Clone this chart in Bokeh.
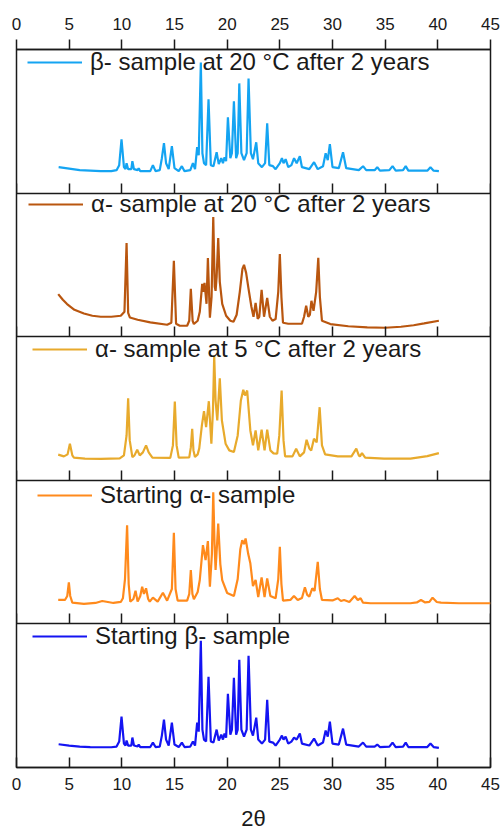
from bokeh.plotting import figure
from bokeh.layouts import column
from bokeh.models import Range1d, LinearAxis, Legend, LegendItem, FixedTicker, Spacer
from bokeh.embed import file_html
from bokeh.resources import INLINE

# ---------------- data ----------------
x_ticks = [0, 5, 10, 15, 20, 25, 30, 35, 40, 45]
x_label = "2θ"

labels = [
    "β- sample at 20 °C after 2 years",
    "α- sample at 20 °C after 2 years",
    "α- sample at 5 °C after 2 years",
    "Starting α- sample",
    "Starting β- sample",
]
colors = ["#14A4F2", "#B9560F", "#E8AA2C", "#FF8A1C", "#1414F2"]

# beta sample at 20 C after 2 years (relative intensity, a.u.)
theta_beta_2y = [4.0, 5.0, 6.0, 7.0, 8.0, 9.0, 9.5, 9.75, 9.97, 10.2, 10.35, 10.45, 10.6, 10.9, 11.0, 11.15,
                 11.5, 11.6, 11.75, 12.7, 12.95, 13.2, 13.6, 13.8, 14.0, 14.2, 14.45, 14.75, 15.0, 15.4,
                 15.7, 15.95, 16.5, 16.75, 16.95, 17.15, 17.3, 17.5, 17.65, 17.8, 18.0, 18.23, 18.45, 18.7,
                 19.0, 19.2, 19.44, 19.6, 19.75, 19.9, 20.07, 20.3, 20.45, 20.64, 20.85, 21.0, 21.15, 21.35,
                 21.6, 21.85, 22.03, 22.25, 22.45, 22.76, 22.95, 23.3, 23.6, 23.8, 24.0, 24.35, 24.6, 25.0,
                 25.2, 25.35, 25.55, 25.8, 26.1, 26.35, 26.6, 26.9, 27.1, 27.8, 28.25, 28.6, 29.1, 29.35,
                 29.55, 29.75, 30.0, 30.6, 31.0, 31.3, 32.5, 32.9, 33.2, 34.0, 34.25, 34.5, 35.4, 35.7, 36.0,
                 36.7, 36.95, 37.2, 39.0, 39.3, 39.6, 40.1]
int_beta_2y = [26, 24.5, 23, 22.5, 22, 22, 23, 28, 54, 26, 24, 30, 24, 24, 32, 24,
               23, 25, 22, 22, 28, 22, 23, 35, 50, 30, 24, 47, 25, 22,
               27, 22, 23, 30, 24, 46, 38, 131, 40, 30, 28, 94, 28, 27,
               41, 29, 35, 30, 36, 32, 76, 35, 40, 92, 35, 40, 110, 40,
               33, 40, 115, 40, 34, 51, 30, 26, 30, 70, 28, 27, 24, 30,
               35, 30, 34, 26, 28, 35, 30, 37, 26, 24, 31, 24, 27, 40,
               33, 49, 26, 25, 41, 25, 23, 27, 23, 23, 26, 22.5, 23, 27, 22.5,
               23, 27, 22.5, 22.5, 26, 22.5, 22]

# alpha sample at 20 C after 2 years
theta_alpha_20 = [3.96, 4.4, 4.8, 5.5, 6.4, 7.2, 8.0, 9.0, 9.9, 10.25, 10.45, 10.6, 10.76, 11.5, 12.7, 14.3,
                  14.7, 14.94, 15.15, 15.5, 16.2, 16.4, 16.55, 16.72, 16.84, 17.2, 17.4, 17.63, 17.75, 17.85,
                  18.04, 18.17, 18.36, 18.52, 18.68, 18.82, 18.9, 19.0, 19.15, 19.3, 19.53, 19.9, 20.3, 20.6,
                  20.9, 21.2, 21.45, 21.6, 21.8, 22.0, 22.3, 22.5, 22.7, 22.9, 23.05, 23.27, 23.5, 23.8,
                  24.05, 24.3, 24.6, 24.85, 25.0, 25.15, 25.3, 25.8, 27.1, 27.3, 27.5, 27.7, 27.85, 28.0,
                  28.2, 28.45, 28.65, 28.8, 29.0, 29.8, 31.5, 33.3, 35.0, 36.5, 37.7, 38.7, 40.1]
int_alpha_20 = [42.7, 37, 32.7, 27, 23.3, 21, 20, 20, 21, 25, 94, 24, 19.3, 17, 14.3, 12,
                14, 76, 13, 11, 11, 16, 48, 16, 12.7, 16, 25, 53, 45, 54,
                33, 79, 19, 40, 120, 50, 46, 60, 99, 55, 33, 21, 16, 15,
                22, 45, 68, 72, 64, 50, 30, 20, 34, 18, 20, 47, 20, 39,
                20, 16, 17.7, 45, 83, 40, 14, 13, 13, 20, 31, 20, 22, 36,
                26, 45, 79, 40, 16, 12.7, 10.5, 9.3, 9, 10, 11.5, 13.3, 16]

# alpha sample at 5 C after 2 years
theta_alpha_5 = [3.96, 4.5, 4.85, 5.07, 5.3, 5.45, 6.5, 8.0, 9.8, 10.2, 10.45, 10.6, 10.75, 11.0, 11.2, 11.46,
                 11.7, 12.0, 12.3, 12.55, 12.9, 14.6, 14.85, 15.03, 15.2, 15.4, 16.4, 16.55, 16.68, 16.8,
                 16.94, 17.2, 17.35, 17.6, 17.8, 18.0, 18.26, 18.5, 18.65, 18.77, 18.9, 19.06, 19.3, 19.5,
                 19.85, 20.2, 20.64, 21.0, 21.3, 21.53, 21.7, 21.9, 22.2, 22.45, 22.7, 22.95, 23.27, 23.55,
                 23.8, 24.1, 24.4, 24.75, 24.95, 25.17, 25.35, 25.5, 26.2, 26.55, 26.9, 27.3, 27.54, 27.8,
                 27.98, 28.24, 28.5, 28.78, 29.0, 29.3, 30.5, 31.8, 32.26, 32.5, 32.6, 32.8, 33.1, 34.9,
                 37.4, 39.0, 40.1]
int_alpha_5 = [25.7, 24, 26, 36.7, 25, 22.7, 21.7, 21.5, 22, 25, 45, 82.3, 40, 23.3, 25, 30.7,
               25, 28, 35, 28, 22.7, 22.5, 35, 79, 35, 22.7, 23, 33, 51.7, 30,
               23.3, 26, 32, 55, 69.3, 53.3, 79.3, 36.7, 70, 125, 80, 60, 102.3, 60,
               36.7, 30, 28.3, 45, 80, 90.7, 85, 90, 50, 35, 50, 30, 50.7, 30,
               50.7, 30, 27, 26.7, 45, 90, 40, 24, 24, 31.7, 24, 28, 40.7, 32,
               30, 41.7, 38, 73.3, 35, 26, 24, 24, 31.7, 25, 24, 27.3, 22.7, 21.7,
               21.7, 24.3, 27.3]

# starting alpha sample
theta_alpha_0 = [3.96, 4.6, 4.82, 4.97, 5.1, 5.3, 6.4, 7.5, 8.14, 9.2, 9.9, 10.1, 10.3, 10.5, 10.65, 10.8,
                 11.1, 11.3, 11.5, 11.75, 11.93, 12.1, 12.3, 12.5, 12.65, 12.95, 13.4, 13.9, 14.3, 14.75,
                 14.94, 15.1, 15.3, 16.2, 16.4, 16.55, 16.7, 16.84, 17.2, 17.4, 17.7, 17.95, 18.17, 18.36,
                 18.55, 18.68, 18.8, 18.9, 19.15, 19.35, 19.53, 20.0, 20.64, 21.0, 21.25, 21.43, 21.6, 21.75,
                 22.0, 22.2, 22.45, 22.7, 22.95, 23.27, 23.55, 23.8, 24.1, 24.6, 24.85, 25.0, 25.15, 25.3,
                 26.0, 26.34, 26.7, 27.1, 27.38, 27.6, 27.8, 28.08, 28.3, 28.6, 28.8, 29.0, 30.0, 30.5,
                 30.8, 31.1, 31.6, 32.1, 32.4, 32.67, 32.9, 33.6, 37.4, 38.0, 38.4, 38.8, 39.2, 39.5,
                 39.9, 40.3, 42.0, 45.0]
int_alpha_0 = [24, 24, 28, 41.7, 28, 21.3, 20, 21, 23, 21, 22, 25.7, 45, 99, 40, 22.3,
               25, 33.3, 22.3, 28, 37.3, 30, 35.7, 25, 22.3, 26.3, 22.3, 31.3, 23.3, 35,
               91.3, 35, 23.3, 23.3, 30, 54, 30, 24.7, 32, 44, 79, 64, 83, 37.3,
               70, 132, 80, 54, 100.7, 60, 44, 31, 28, 45, 75, 84, 80, 85.7,
               70, 60.7, 38, 44, 27, 46.7, 27, 45.7, 28, 25.7, 45, 77.3, 40, 23.3,
               24, 28, 24, 26, 36.7, 29, 27.3, 35.7, 33, 62.3, 35, 24, 23.5, 25.7,
               23, 24, 22, 28, 24, 25.7, 21.3, 20.7, 20.7, 21.5, 24, 21.5, 22, 26.3,
               22, 21.3, 20.7, 20.7]

# starting beta sample
theta_beta_0 = [4.0, 5.0, 6.0, 7.0, 8.0, 9.0, 9.5, 9.75, 9.97, 10.2, 10.35, 10.45, 10.6, 10.9, 11.0, 11.15,
                11.5, 11.6, 11.75, 12.7, 12.95, 13.2, 13.6, 13.8, 14.0, 14.2, 14.45, 14.75, 15.0, 15.4,
                15.7, 15.95, 16.5, 16.75, 16.95, 17.15, 17.3, 17.5, 17.65, 17.8, 18.0, 18.23, 18.45, 18.7,
                19.0, 19.2, 19.44, 19.6, 19.75, 19.9, 20.07, 20.3, 20.45, 20.64, 20.85, 21.0, 21.15, 21.35,
                21.6, 21.85, 22.03, 22.25, 22.45, 22.76, 22.95, 23.3, 23.6, 23.8, 24.0, 24.35, 24.6, 25.0,
                25.2, 25.35, 25.55, 25.8, 26.1, 26.35, 26.6, 26.9, 27.1, 27.8, 28.25, 28.6, 29.1, 29.35,
                29.55, 29.75, 30.0, 30.6, 31.0, 31.3, 32.5, 32.9, 33.2, 34.0, 34.25, 34.5, 35.4, 35.7, 36.0,
                36.7, 36.95, 37.2, 39.0, 39.3, 39.6, 40.1]
int_beta_0 = [23.3, 22, 21, 20.5, 20.3, 20.3, 21, 26, 51, 24, 22, 27, 22, 22, 30, 22,
              21, 23, 20.5, 20.5, 25, 20.5, 21, 32, 48, 28, 22, 45, 23, 20.5,
              25, 20.5, 21, 26, 22, 45, 36, 127, 38, 28, 26, 91, 26, 25,
              38, 27, 33, 28, 34, 30, 74, 33, 38, 90, 33, 38, 108, 38,
              31, 38, 112, 38, 32, 50, 28, 24, 28, 68, 26, 25, 22, 28,
              32, 28, 31, 24, 26, 30, 28, 34, 24, 22, 29, 22, 25, 37,
              31, 46, 24, 23, 39, 23, 21, 25, 21, 21, 23, 20.5, 21, 25, 20.5,
              21, 25, 20.5, 20.5, 24, 20.5, 19.7]

thetas = [theta_beta_2y, theta_alpha_20, theta_alpha_5, theta_alpha_0, theta_beta_0]
intens = [int_beta_2y, int_alpha_20, int_alpha_5, int_alpha_0, int_beta_0]

# ---------------- figure ----------------
N = 5
H = 144.0  # intensity span of one panel
FONT = "Liberation Sans"
INK = "#1a1a1a"
TOP_GAP = 10

p = figure(width=502, height=833 - TOP_GAP, x_range=Range1d(0, 45), y_range=Range1d(0, N),
           output_backend="svg", toolbar_location=None,
           x_axis_location=None, y_axis_location=None,
           min_border_left=16, min_border_right=12, min_border_top=39, min_border_bottom=0)
p.xgrid.grid_line_color = None
p.ygrid.grid_line_color = None
p.outline_line_color = INK
p.outline_line_width = 1.5
p.background_fill_color = "white"
p.border_fill_color = "white"

def style_axis(ax, tick_in, tick_out, show_labels):
    ax.ticker = FixedTicker(ticks=x_ticks)
    ax.major_tick_in = tick_in
    ax.major_tick_out = tick_out
    ax.minor_tick_line_color = None
    ax.axis_line_color = INK
    ax.axis_line_width = 1.5
    ax.major_tick_line_color = INK
    ax.major_tick_line_width = 1.5
    if show_labels:
        ax.major_label_text_font = FONT
        ax.major_label_text_font_size = "17px"
        ax.major_label_text_color = INK
    else:
        ax.major_label_text_font_size = "0px"
        ax.major_label_text_color = None

top = LinearAxis()
style_axis(top, 0, 10, True)
top.major_label_standoff = 10
p.add_layout(top, "above")

bottom = LinearAxis(axis_label=x_label)
style_axis(bottom, 10, 0, True)
bottom.major_label_standoff = 10
bottom.axis_label_standoff = 13
bottom.axis_label_text_font = FONT
bottom.axis_label_text_font_size = "22px"
bottom.axis_label_text_font_style = "normal"
bottom.axis_label_text_color = INK
p.add_layout(bottom, "below")

# separators between the stacked panels
for k in range(1, N):
    sep = LinearAxis(fixed_location=k)
    style_axis(sep, 10, 0, False)
    p.add_layout(sep, "below")

legend_x = [11, 12, 16, 21, 16]
legend_y = [691, 549, 404, 258, 117]

for i in range(N):
    band = N - 1 - i
    name = f"panel{i}"
    p.extra_y_ranges[name] = Range1d(-band * H, (N - band) * H)
    r = p.line(thetas[i], intens[i], y_range_name=name, line_color=colors[i], line_width=2.2)
    leg = Legend(items=[LegendItem(label=labels[i], renderers=[r])],
                 location=(legend_x[i], legend_y[i]),
                 glyph_width=55, glyph_height=24, label_height=24, label_standoff=8,
                 padding=0, margin=0, border_line_color=None, background_fill_alpha=0,
                 label_text_font=FONT, label_text_font_size="24px", label_text_color=INK)
    p.add_layout(leg, "center")

layout = column(Spacer(width=502, height=TOP_GAP), p)
open("out.html", "w").write(file_html(layout, INLINE, title="XRD patterns"))
